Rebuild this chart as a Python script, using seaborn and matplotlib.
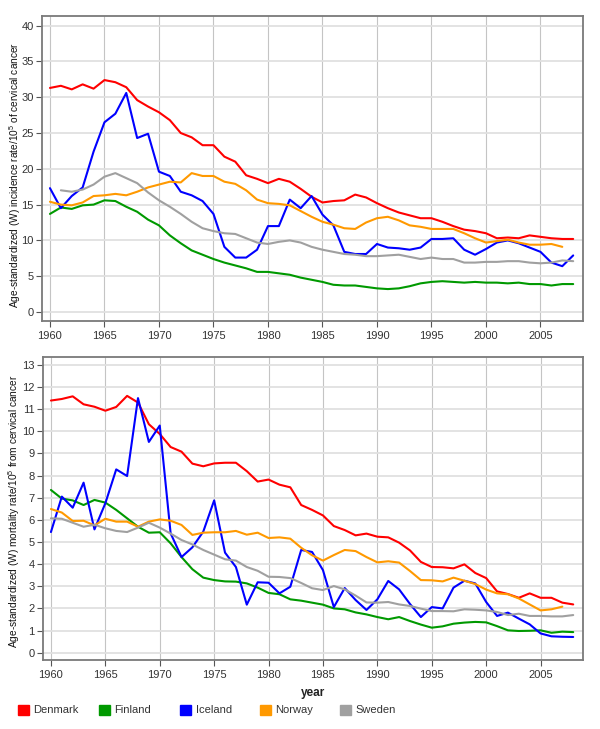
import numpy as np
import pandas as pd
import matplotlib
matplotlib.use("Agg")
import matplotlib.pyplot as plt
from matplotlib.patches import Patch
import seaborn as sns

nan = np.nan
years = list(range(1960, 2009))
countries = ["Denmark", "Finland", "Iceland", "Norway", "Sweden"]
colors = ["#ff0000", "#009900", "#0000ff", "#ff9900", "#a0a0a0"]

inc_den = [31.3, 31.6, 31.1, 31.8, 31.2, 32.4, 32.1, 31.4, 29.6, 28.7,
           27.9, 26.8, 25.0, 24.4, 23.3, 23.3, 21.7, 21.0, 19.1, 18.6,
           18.0, 18.6, 18.2, 17.2, 16.1, 15.3, 15.5, 15.6, 16.4, 16.0,
           15.2, 14.5, 13.9, 13.5, 13.1, 13.1, 12.6, 12.0, 11.5, 11.3,
           11.0, 10.3, 10.4, 10.3, 10.7, 10.5, 10.3, 10.2, 10.2]
inc_fin = [13.7, 14.6, 14.4, 14.9, 15.0, 15.6, 15.5, 14.7, 14.0, 12.9,
           12.1, 10.7, 9.6, 8.6, 8.0, 7.4, 6.9, 6.5, 6.1, 5.6,
           5.6, 5.4, 5.2, 4.8, 4.5, 4.2, 3.8, 3.7, 3.7, 3.5,
           3.3, 3.2, 3.3, 3.6, 4.0, 4.2, 4.3, 4.2, 4.1, 4.2,
           4.1, 4.1, 4.0, 4.1, 3.9, 3.9, 3.7, 3.9, 3.9]
inc_ice = [17.3, 14.5, 16.2, 17.4, 22.4, 26.5, 27.7, 30.6, 24.3, 24.9,
           19.6, 19.0, 16.8, 16.3, 15.5, 13.7, 9.1, 7.6, 7.6, 8.7,
           12.0, 12.0, 15.7, 14.5, 16.2, 13.6, 12.1, 8.4, 8.1, 8.1,
           9.5, 9.0, 8.9, 8.7, 9.0, 10.2, 10.2, 10.3, 8.7, 8.0,
           8.8, 9.7, 10.0, 9.6, 9.0, 8.4, 6.9, 6.4, 7.9]
inc_nor = [15.4, 15.0, 14.9, 15.3, 16.2, 16.3, 16.5, 16.3, 16.8, 17.4,
           17.8, 18.2, 18.1, 19.4, 19.0, 19.0, 18.2, 17.9, 17.0, 15.7,
           15.2, 15.1, 14.9, 14.1, 13.3, 12.6, 12.2, 11.7, 11.6, 12.5,
           13.1, 13.3, 12.8, 12.1, 11.9, 11.6, 11.6, 11.6, 11.0, 10.3,
           9.7, 9.9, 10.1, 9.7, 9.4, 9.4, 9.5, 9.1, nan]
inc_swe = [nan, 17.0, 16.8, 17.1, 17.8, 18.9, 19.4, 18.7, 18.0, 16.7,
           15.6, 14.7, 13.7, 12.6, 11.7, 11.3, 11.0, 10.9, 10.3, 9.7,
           9.5, 9.8, 10.0, 9.7, 9.1, 8.7, 8.4, 8.1, 8.0, 7.8,
           7.8, 7.9, 8.0, 7.7, 7.4, 7.6, 7.4, 7.4, 6.9, 6.9,
           7.0, 7.0, 7.1, 7.1, 6.9, 6.8, 6.9, 7.2, 7.1]

mor_den = [11.39, 11.46, 11.58, 11.22, 11.11, 10.93, 11.10, 11.60, 11.30, 10.32,
           9.88, 9.29, 9.08, 8.54, 8.42, 8.55, 8.58, 8.58, 8.20, 7.73,
           7.82, 7.59, 7.47, 6.67, 6.45, 6.20, 5.72, 5.54, 5.30, 5.38,
           5.24, 5.21, 4.97, 4.62, 4.10, 3.87, 3.86, 3.81, 3.99, 3.60,
           3.37, 2.77, 2.65, 2.48, 2.68, 2.48, 2.48, 2.26, 2.18]
mor_fin = [7.35, 6.96, 6.88, 6.67, 6.90, 6.78, 6.45, 6.07, 5.69, 5.42,
           5.44, 4.94, 4.32, 3.77, 3.39, 3.28, 3.22, 3.21, 3.13, 2.94,
           2.70, 2.64, 2.41, 2.35, 2.26, 2.17, 2.00, 1.96, 1.82, 1.73,
           1.61, 1.51, 1.61, 1.43, 1.27, 1.13, 1.19, 1.31, 1.36, 1.39,
           1.37, 1.20, 1.01, 0.98, 0.99, 1.01, 0.90, 0.95, 0.93]
mor_ice = [5.45, 7.05, 6.55, 7.68, 5.57, 6.75, 8.28, 7.98, 11.50, 9.52,
           10.26, 5.39, 4.32, 4.76, 5.47, 6.88, 4.52, 3.87, 2.17, 3.18,
           3.16, 2.68, 2.98, 4.64, 4.55, 3.73, 2.06, 2.92, 2.38, 1.93,
           2.41, 3.24, 2.86, 2.20, 1.61, 2.06, 2.00, 2.94, 3.25, 3.13,
           2.29, 1.66, 1.81, 1.54, 1.28, 0.87, 0.74, 0.72, 0.71]
mor_nor = [6.49, 6.33, 5.95, 5.96, 5.75, 6.05, 5.92, 5.92, 5.69, 5.92,
           6.02, 5.96, 5.77, 5.32, 5.42, 5.44, 5.44, 5.50, 5.33, 5.42,
           5.18, 5.21, 5.15, 4.74, 4.40, 4.16, 4.41, 4.64, 4.59, 4.32,
           4.08, 4.13, 4.07, 3.69, 3.28, 3.27, 3.22, 3.39, 3.25, 3.10,
           2.85, 2.68, 2.64, 2.45, 2.18, 1.91, 1.96, 2.08, nan]
mor_swe = [6.07, 6.05, 5.87, 5.69, 5.78, 5.62, 5.50, 5.45, 5.65, 5.87,
           5.65, 5.38, 5.09, 4.89, 4.64, 4.43, 4.22, 4.16, 3.87, 3.70,
           3.43, 3.42, 3.37, 3.15, 2.91, 2.83, 3.01, 2.86, 2.58, 2.27,
           2.26, 2.29, 2.18, 2.11, 1.99, 1.88, 1.88, 1.87, 1.96, 1.94,
           1.91, 1.84, 1.70, 1.76, 1.66, 1.66, 1.64, 1.64, 1.70]

x_ticks = [1960, 1965, 1970, 1975, 1980, 1985, 1990, 1995, 2000, 2005]
inc_ticks = [0, 5, 10, 15, 20, 25, 30, 35, 40]
mor_ticks = list(range(0, 14))


def long_df(series):
    rows = []
    for c, vals in zip(countries, series):
        for y, v in zip(years, vals):
            rows.append({"year": y, "country": c, "value": v})
    return pd.DataFrame(rows)


df_inc = long_df([inc_den, inc_fin, inc_ice, inc_nor, inc_swe])
df_mor = long_df([mor_den, mor_fin, mor_ice, mor_nor, mor_swe])

sns.set_theme(style="white")
plt.rcParams["font.family"] = ["Liberation Sans", "DejaVu Sans"]
plt.rcParams["mathtext.default"] = "regular"

fig = plt.figure(figsize=(6.0, 7.29), dpi=100)
ax1 = fig.add_axes([42 / 600, 1 - 321 / 729, 541 / 600, 305 / 729])
ax2 = fig.add_axes([43 / 600, 1 - 660 / 729, 540 / 600, 303.3 / 729])

pal = dict(zip(countries, colors))

for ax, df, ticks, ylim, ylabel, lx, ly in [
    (ax1, df_inc, inc_ticks, (-1.26, 41.35),
     "Age-standardized (W) incidence rate/10$^5$ of cervical cancer", -0.036, 0.48),
    (ax2, df_mor, mor_ticks, (-0.33, 13.37),
     "Age-standardized (W) mortality rate/10$^5$ from cervical cancer", -0.038, 0.49),
]:
    sns.lineplot(data=df, x="year", y="value", hue="country", palette=pal,
                 hue_order=countries, ax=ax, legend=False, linewidth=1.5,
                 estimator=None, sort=True)
    ax.set_xlim(1959.27, 2008.9)
    ax.set_ylim(*ylim)
    ax.set_xticks(x_ticks)
    ax.set_yticks(ticks)
    ax.xaxis.grid(True, color="#c4c4c4", linewidth=0.8)
    ax.yaxis.grid(True, color="#e0e0e0", linewidth=1.3)
    ax.set_axisbelow(True)
    for s in ax.spines.values():
        s.set_color("#7a7a7a")
        s.set_linewidth(1.3)
    ax.tick_params(axis="both", which="major", length=4, width=0.8,
                   color="#555555", labelsize=8, labelcolor="#333333",
                   direction="out", bottom=True, left=True)
    ax.tick_params(axis="x", pad=3)
    ax.tick_params(axis="y", pad=2)
    ax.set_ylabel(ylabel, fontsize=7.3, color="#111111")
    ax.yaxis.set_label_coords(lx, ly)
    ax.set_xlabel("")

ax2.set_xlabel("year", fontsize=8.5, fontweight="bold", color="#222222", labelpad=5)

legend_x = [18, 99, 180, 260, 340]
for n, c, lxp in zip(countries, colors, legend_x):
    fig.legend(handles=[Patch(facecolor=c, edgecolor=c, label=n)],
               loc="center left", bbox_to_anchor=(lxp / 600, 1 - 710 / 729),
               frameon=False, fontsize=8, handlelength=1.0, handleheight=1.0,
               handletextpad=0.4, borderpad=0, borderaxespad=0,
               labelcolor="#333333")

fig.savefig("out.png", dpi=100)
